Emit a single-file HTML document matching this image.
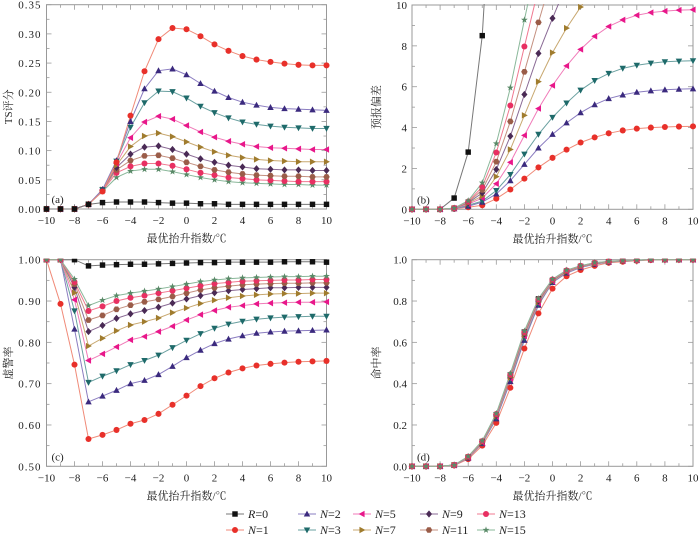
<!DOCTYPE html>
<html><head><meta charset="utf-8"><style>
body{margin:0;background:#fff;}
svg text{font-family:"Liberation Serif","Noto Serif CJK SC",serif;fill:#222;}
</style></head><body>
<svg id="c" width="700" height="535" xmlns="http://www.w3.org/2000/svg"></svg>
<script>
const xs=[-10,-9,-8,-7,-6,-5,-4,-3,-2,-1,0,1,2,3,4,5,6,7,8,9,10];
const seriesNames=["R=0","N=1","N=2","N=3","N=5","N=7","N=9","N=11","N=13","N=15"];
const tsR0=[0,0,0,0.008,0.011,0.012,0.012,0.012,0.011,0.010,0.010,0.009,0.009,0.008,0.008,0.008,0.008,0.008,0.008,0.008,0.008];
const tsN1=[0,0,0,0.008,0.03,0.08,0.16,0.236,0.291,0.31,0.308,0.296,0.282,0.271,0.262,0.256,0.252,0.249,0.247,0.246,0.246];
const tsN2=[0,0,0,0.008,0.033,0.083,0.15,0.206,0.237,0.24,0.23,0.215,0.202,0.191,0.183,0.178,0.174,0.172,0.171,0.170,0.169];
const tsN3=[0,0,0,0.008,0.033,0.082,0.14,0.182,0.202,0.201,0.19,0.176,0.165,0.156,0.149,0.145,0.142,0.140,0.139,0.138,0.138];
const tsN5=[0,0,0,0.008,0.033,0.078,0.122,0.149,0.159,0.154,0.143,0.132,0.123,0.116,0.111,0.107,0.105,0.104,0.103,0.102,0.102];
const tsN7=[0,0,0,0.008,0.033,0.075,0.107,0.125,0.13,0.124,0.115,0.106,0.098,0.092,0.088,0.085,0.083,0.082,0.081,0.081,0.081];
const tsN9=[0,0,0,0.008,0.033,0.071,0.094,0.106,0.108,0.102,0.094,0.086,0.08,0.075,0.072,0.069,0.068,0.067,0.067,0.066,0.066];
const tsN11=[0,0,0,0.008,0.032,0.067,0.083,0.091,0.092,0.087,0.08,0.073,0.067,0.063,0.06,0.058,0.057,0.056,0.056,0.055,0.055];
const tsN13=[0,0,0,0.008,0.031,0.062,0.073,0.078,0.078,0.074,0.068,0.062,0.058,0.054,0.052,0.05,0.049,0.048,0.047,0.047,0.047];
const tsN15=[0,0,0,0.008,0.030,0.054,0.065,0.068,0.068,0.064,0.059,0.054,0.050,0.047,0.045,0.044,0.043,0.042,0.042,0.041,0.041];
const biasR0=[0,0,0,0.55,2.8,8.5,20,30,40,50,60,70,80,90,100,100,100,100,100,100,100];
const biasN1=[0,0,0,0.02,0.1,0.2,0.52,0.97,1.5,2.05,2.52,2.92,3.27,3.52,3.72,3.86,3.95,4.0,4.03,4.05,4.06];
const biasN2=[0,0,0,0.03,0.15,0.35,0.75,1.4,2.2,3.0,3.67,4.23,4.73,5.12,5.42,5.6,5.73,5.8,5.85,5.88,5.9];
const biasN3=[0,0,0,0.04,0.2,0.4,0.92,1.7,2.7,3.67,4.5,5.2,5.83,6.3,6.65,6.9,7.05,7.15,7.22,7.25,7.27];
const biasN5=[0,0,0,0.05,0.25,0.55,1.25,2.3,3.62,4.93,6.06,7.02,7.83,8.47,8.95,9.27,9.5,9.63,9.7,9.75,9.77];
const biasN7=[0,0,0,0.05,0.3,0.65,1.6,2.93,4.6,6.25,7.67,8.87,9.9,11,12,13,14,15,16,17,18];
const biasN9=[0,0,0,0.05,0.32,0.8,1.95,3.58,5.62,7.63,9.35,11,12.5,14,15,16,17,18,19,20,21];
const biasN11=[0,0,0,0.06,0.35,0.95,2.33,4.3,6.73,9.15,11.5,13.5,15,17,18,19,20,21,22,23,24];
const biasN13=[0,0,0,0.06,0.38,1.1,2.78,5.08,7.97,10.8,13,15,17,19,20,21,22,23,24,25,26];
const biasN15=[0,0,0,0.06,0.42,1.3,3.22,5.95,9.27,12.5,15,17,19,21,22,23,24,25,26,27,28];
const farR0=[1,1,1,0.985,0.987,0.988,0.989,0.989,0.99,0.991,0.992,0.993,0.993,0.994,0.994,0.994,0.994,0.995,0.995,0.995,0.994];
const farN1=[1,0.893,0.746,0.566,0.576,0.588,0.603,0.612,0.627,0.649,0.671,0.694,0.713,0.727,0.737,0.744,0.748,0.751,0.753,0.754,0.755];
const farN2=[1,1,0.832,0.656,0.67,0.684,0.7,0.708,0.722,0.742,0.763,0.781,0.797,0.808,0.816,0.822,0.825,0.827,0.828,0.829,0.830];
const farN3=[1,1,0.876,0.703,0.718,0.731,0.746,0.756,0.769,0.787,0.805,0.821,0.834,0.844,0.851,0.856,0.859,0.861,0.862,0.863,0.863];
const farN5=[1,1,0.903,0.756,0.772,0.789,0.806,0.814,0.826,0.839,0.854,0.867,0.877,0.885,0.889,0.893,0.895,0.896,0.897,0.897,0.898];
const farN7=[1,1,0.92,0.791,0.81,0.828,0.842,0.85,0.859,0.872,0.883,0.894,0.902,0.908,0.912,0.915,0.917,0.918,0.918,0.919,0.919];
const farN9=[1,1,0.933,0.826,0.841,0.858,0.869,0.877,0.885,0.895,0.905,0.913,0.92,0.925,0.928,0.93,0.932,0.932,0.933,0.933,0.933];
const farN11=[1,1,0.941,0.854,0.865,0.88,0.89,0.898,0.904,0.911,0.919,0.927,0.932,0.936,0.939,0.941,0.942,0.943,0.943,0.944,0.944];
const farN13=[1,1,0.946,0.876,0.887,0.9,0.908,0.913,0.919,0.925,0.931,0.937,0.942,0.945,0.948,0.949,0.95,0.951,0.951,0.952,0.952];
const farN15=[1,1,0.953,0.889,0.902,0.913,0.919,0.924,0.929,0.935,0.941,0.947,0.951,0.954,0.956,0.957,0.958,0.959,0.959,0.96,0.96];
const podR0=[0,0,0,0.006,0.045,0.12,0.25,0.44,0.65,0.81,0.9,0.945,0.968,0.982,0.99,0.995,0.998,1,1,1,1];
const podN1=[0,0,0,0.004,0.035,0.1,0.21,0.38,0.57,0.74,0.86,0.92,0.95,0.97,0.985,0.99,0.995,0.998,1,1,1];
const podN2=[0,0,0,0.005,0.04,0.11,0.23,0.41,0.61,0.78,0.89,0.935,0.962,0.978,0.988,0.994,0.997,1,1,1,1];
const podN3=[0,0,0,0.005,0.042,0.112,0.235,0.42,0.62,0.785,0.892,0.938,0.964,0.98,0.989,0.994,0.997,1,1,1,1];
const podN5=[0,0,0,0.005,0.043,0.114,0.24,0.425,0.63,0.79,0.895,0.94,0.966,0.981,0.99,0.995,0.998,1,1,1,1];
const podN7=[0,0,0,0.006,0.044,0.116,0.243,0.43,0.635,0.795,0.897,0.942,0.967,0.982,0.99,0.995,0.998,1,1,1,1];
const podN9=[0,0,0,0.006,0.045,0.118,0.246,0.435,0.64,0.8,0.9,0.944,0.968,0.983,0.991,0.995,0.998,1,1,1,1];
const podN11=[0,0,0,0.006,0.046,0.12,0.25,0.44,0.645,0.805,0.902,0.946,0.969,0.984,0.991,0.996,0.998,1,1,1,1];
const podN13=[0,0,0,0.006,0.047,0.122,0.253,0.445,0.65,0.808,0.904,0.948,0.97,0.985,0.992,0.996,0.998,1,1,1,1];
const podN15=[0,0,0,0.006,0.048,0.124,0.256,0.45,0.655,0.812,0.906,0.95,0.971,0.986,0.992,0.996,0.998,1,1,1,1];

const mk=["square","circle","tri-up","tri-down","tri-left","tri-right","diamond","hex","circle","star"];
const mc=["#111","#e8302a","#3b2a7e","#1e6a6a","#e8178a","#a07c2e","#4a2a55","#9a5c48","#e83062","#5a8a68"];
const lc=["#777","#f08a78","#8a7cc0","#6aa0a0","#f07ab8","#c8a870","#8a6a95","#c49080","#f07890","#8ab89a"];
const S="http://www.w3.org/2000/svg";
const svg=document.getElementById('c');
const MS=0.85;
function el(t,a,p){const e=document.createElementNS(S,t);for(const k in a)e.setAttribute(k,a[k]);(p||svg).appendChild(e);return e;}
function marker(g,type,x,y,col){
  const r=3.2*MS;let e;
  if(type==="square")e=el('rect',{x:x-r,y:y-r,width:2*r,height:2*r,fill:col},g);
  else if(type==="circle")e=el('circle',{cx:x,cy:y,r:r+0.3,fill:col},g);
  else{let p;
    if(type==="tri-up")p=[[0,-4],[3.8,3],[-3.8,3]];
    else if(type==="tri-down")p=[[0,4],[3.8,-3],[-3.8,-3]];
    else if(type==="tri-left")p=[[-4,0],[3,-3.8],[3,3.8]];
    else if(type==="tri-right")p=[[4,0],[-3,-3.8],[-3,3.8]];
    else if(type==="diamond")p=[[0,-4.2],[3.6,0],[0,4.2],[-3.6,0]];
    else if(type==="hex"){p=[];for(let i=0;i<6;i++){const a=Math.PI/3*i;p.push([3.8*Math.cos(a),3.8*Math.sin(a)]);}}
    else {p=[];for(let i=0;i<10;i++){const a=-Math.PI/2+Math.PI/5*i,rr=i%2?1.7:4.2;p.push([rr*Math.cos(a),rr*Math.sin(a)]);}}
    e=el('polygon',{points:p.map(q=>(x+q[0]*MS)+","+(y+q[1]*MS)).join(" "),fill:col},g);}
  
  
}
function panel(o){
  const g=el('g',{});
  
  
  const X=v=>o.x0+(v+10)/20*(o.x1-o.x0);
  const Y=v=>o.y0-(v-o.ymin)/(o.ymax-o.ymin)*(o.y0-o.y1);
  const cid='clip'+o.id;
  const cp=el('clipPath',{id:cid},g);el('rect',{x:o.x0-5,y:o.y1-1,width:o.x1-o.x0+10,height:o.y0-o.y1+6},cp);
  for(let v=-10;v<=10;v+=1){const x=X(v),maj=v%2===0;
    el('line',{x1:x,x2:x,y1:o.y0,y2:o.y0-(maj?5:3),stroke:'#999','stroke-width':0.8},g);
    el('line',{x1:x,x2:x,y1:o.y1,y2:o.y1+(maj?5:3),stroke:'#999','stroke-width':0.8},g);
    if(maj){const t=el('text',{x:x,y:o.y0+15,'text-anchor':'middle','font-size':11},g);t.textContent=(v<0?'\u2212':'')+Math.abs(v);
      }}
  const n=Math.round((o.ymax-o.ymin)/o.ystep);
  for(let i=0;i<=n;i++){const v=o.ymin+i*o.ystep,y=Y(v);
    el('line',{x1:o.x0,x2:o.x0+5,y1:y,y2:y,stroke:'#999','stroke-width':0.8},g);
    el('line',{x1:o.x1,x2:o.x1-5,y1:y,y2:y,stroke:'#999','stroke-width':0.8},g);
    if(i<n){const ym=Y(v+o.ystep/2);
      el('line',{x1:o.x0,x2:o.x0+3,y1:ym,y2:ym,stroke:'#999','stroke-width':0.8},g);
      el('line',{x1:o.x1,x2:o.x1-3,y1:ym,y2:ym,stroke:'#999','stroke-width':0.8},g);}
    const t=el('text',{x:o.x0-5,y:y+4,'text-anchor':'end','font-size':11,'letter-spacing':o.ls||0},g);t.textContent=v.toFixed(o.dec);
    }
  el('rect',{x:o.x0,y:o.y1,width:o.x1-o.x0,height:o.y0-o.y1,fill:'none',stroke:'#999','stroke-width':1},g);
  const order=o.order||[0,1,2,3,4,5,6,7,8,9];
  const sg=el('g',{'clip-path':'url(#'+cid+')'},g);
  order.forEach(k=>{const d=o.data[k];
    const pl=el('polyline',{points:xs.map((x,i)=>X(x)+","+Y(d[i])).join(" "),fill:'none',stroke:lc[k],'stroke-width':1},sg);
    
    
  });
  order.forEach(k=>{const d=o.data[k];
    xs.forEach((x,i)=>{if(d[i]<=o.ymax*1.02)marker(sg,mk[k],X(x),Y(d[i]),mc[k]);});});
  const lab=el('text',{x:o.x0+5,y:o.y0-6,'font-size':11},g);lab.textContent=o.label;
  
  const xt=el('text',{x:(o.x0+o.x1)/2,y:o.y0+33,'text-anchor':'middle','font-size':11,'font-family':'"Noto Serif CJK SC",serif'},g);xt.textContent='最优抬升指数/℃';
  
  const cy=(o.y0+o.y1)/2;
  const yt=el('text',{x:o.ytx,y:cy,'text-anchor':'middle','font-size':11,transform:`rotate(-90 ${o.ytx} ${cy})`,'font-family':'"Liberation Serif","Noto Serif CJK SC",serif'},g);yt.textContent=o.ytitle;
  
}
panel({id:'a',name:'ts-score-panel',x0:46.5,x1:326.5,y0:209,y1:4.7,ymin:0,ymax:0.35,ystep:0.05,dec:2,ls:1,label:'(a)',ytitle:'TS评分',ytx:12,
  data:[tsR0,tsN1,tsN2,tsN3,tsN5,tsN7,tsN9,tsN11,tsN13,tsN15],order:[9,8,7,6,5,4,3,2,1,0]});
panel({id:'b',name:'bias-panel',x0:412,x1:693,y0:209.3,y1:5,ymin:0,ymax:10,ystep:2,dec:0,label:'(b)',ytitle:'预报偏差',ytx:380,
  data:[biasR0,biasN1,biasN2,biasN3,biasN5,biasN7,biasN9,biasN11,biasN13,biasN15]});
panel({id:'c',name:'false-alarm-panel',x0:46.5,x1:326.5,y0:466.3,y1:259.7,ymin:0.5,ymax:1.0,ystep:0.1,dec:2,ls:1,label:'(c)',ytitle:'虚警率',ytx:12,
  data:[farR0,farN1,farN2,farN3,farN5,farN7,farN9,farN11,farN13,farN15]});
panel({id:'d',name:'hit-rate-panel',x0:412,x1:693,y0:466.3,y1:259.7,ymin:0,ymax:1.0,ystep:0.2,dec:1,label:'(d)',ytitle:'命中率',ytx:380,
  data:[podR0,podN1,podN2,podN3,podN5,podN7,podN9,podN11,podN13,podN15],order:[0,1,2,3,4,5,6,7,8,9]});
const lg=el('g',{});


const legPos=[[0,0],[0,1],[1,0],[1,1],[2,0],[2,1],[3,0],[3,1],[4,0],[4,1]];
const legOrder=[0,1,2,3,4,5,6,7,8,9];
const colX=[226,298,353,420,477];
legOrder.forEach((k,i)=>{
  const c=legPos[i][0],r=legPos[i][1],x=colX[c],y=514+r*16;
  const g=el('g',{},lg);
  
  
  el('line',{x1:x,x2:x+18,y1:y,y2:y,stroke:lc[k],'stroke-width':1},g);
  marker(g,mk[k],x+9,y,mc[k]);
  const nm=seriesNames[k].split('=');
  const t=el('text',{x:x+22,y:y+4,'font-size':12},g);
  const it=el('tspan',{'font-style':'italic'},t);it.textContent=nm[0];
  const rest=el('tspan',{},t);rest.textContent='='+nm[1];
});
</script>
</body></html>
